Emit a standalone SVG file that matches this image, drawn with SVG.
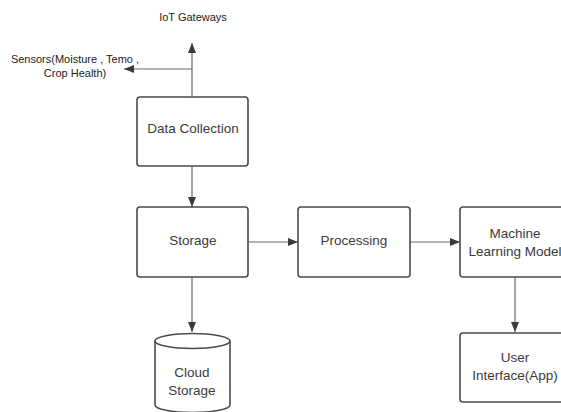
<svg xmlns="http://www.w3.org/2000/svg" width="561" height="412" viewBox="0 0 561 412">
<defs>
<style>
.box{fill:#fff;stroke:#4a4a4a;stroke-width:1.6}
.lbl{font-family:"Liberation Sans",Arial,sans-serif;font-size:13.5px;fill:#3a3a3a;text-anchor:middle}
.sm{font-family:"Liberation Sans",Arial,sans-serif;font-size:11px;fill:#222;text-anchor:middle}
.edge{fill:none;stroke:#6a6a6a;stroke-width:1.2}
</style>
<marker id="ah" viewBox="0 0 10 8" refX="10" refY="4" markerWidth="10" markerHeight="8" markerUnits="userSpaceOnUse" orient="auto">
<path d="M0,0 L10,4 L0,8 Z" fill="#3a3a3a"/>
</marker>
</defs>
<rect width="561" height="412" fill="#fff"/>
<g id="connectors">
<path class="edge" d="M192,97 V43" marker-end="url(#ah)"/>
<path class="edge" d="M192,69 H124" marker-end="url(#ah)"/>
<path class="edge" d="M192,166 V207" marker-end="url(#ah)"/>
<path class="edge" d="M248,242 H298" marker-end="url(#ah)"/>
<path class="edge" d="M410,242 H460" marker-end="url(#ah)"/>
<path class="edge" d="M192,277 V332" marker-end="url(#ah)"/>
<path class="edge" d="M515,277 V332" marker-end="url(#ah)"/>
</g>
<g id="iot-gateways">
<text class="sm" x="193" y="21">IoT Gateways</text>
</g>
<g id="sensors">
<text class="sm" x="75" y="63">Sensors(Moisture , Temo ,</text>
<text class="sm" x="75" y="77">Crop Health)</text>
</g>
<g id="data-collection">
<rect class="box" x="137" y="97" width="111" height="69" rx="3"/>
<text class="lbl" x="193" y="133">Data Collection</text>
</g>
<g id="storage">
<rect class="box" x="137" y="207" width="111" height="70" rx="3"/>
<text class="lbl" x="193" y="245">Storage</text>
</g>
<g id="processing">
<rect class="box" x="298" y="207" width="112" height="70" rx="3"/>
<text class="lbl" x="354" y="245">Processing</text>
</g>
<g id="ml-model">
<rect class="box" x="460" y="207" width="111" height="70" rx="3"/>
<text class="lbl" x="515" y="238">Machine</text>
<text class="lbl" x="515" y="256">Learning Model</text>
</g>
<g id="user-interface">
<rect class="box" x="460" y="333" width="111" height="69" rx="3"/>
<text class="lbl" x="515" y="362">User</text>
<text class="lbl" x="515" y="380">Interface(App)</text>
</g>
<g id="cloud-storage">
<path class="box" d="M155,341 V405 A37.5,7.5 0 0 0 230,405 V341 A37.5,7.5 0 0 0 155,341 Z"/>
<path class="box" style="fill:none" d="M155,341 A37.5,7.5 0 0 0 230,341"/>
<text class="lbl" x="192" y="377">Cloud</text>
<text class="lbl" x="192" y="395">Storage</text>
</g>
</svg>
